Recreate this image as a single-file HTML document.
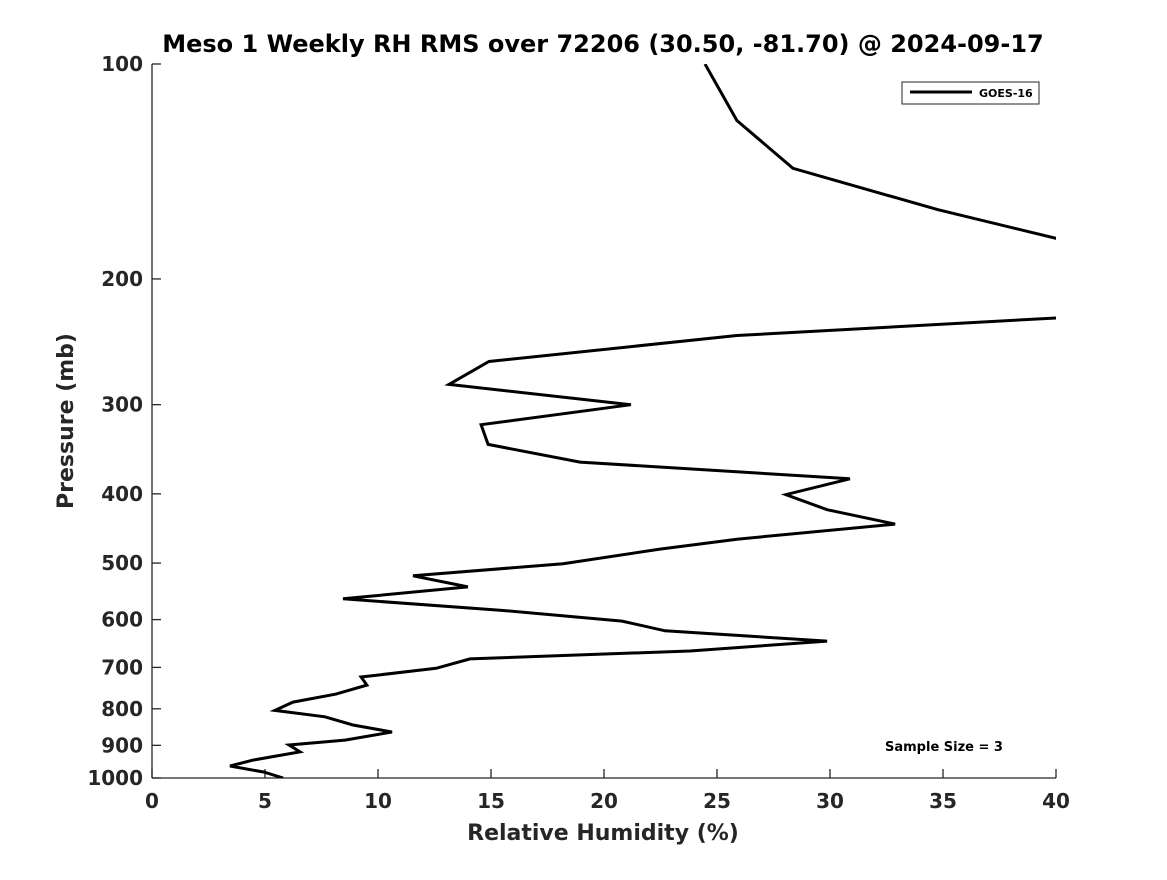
<!DOCTYPE html>
<html><head><meta charset="utf-8"><style>
body{margin:0;background:#fff;}
svg text{font-family:"DejaVu Sans","Liberation Sans",sans-serif;font-weight:bold;fill:#262626;}
</style></head><body>
<svg id="chart" width="1167" height="875" xmlns="http://www.w3.org/2000/svg">
<defs><clipPath id="plotclip"><rect x="152" y="64" width="904" height="714"/></clipPath></defs>
<text x="603" y="52" text-anchor="middle" font-size="24" style="fill:#000">Meso 1 Weekly RH RMS over 72206 (30.50, -81.70) @ 2024-09-17</text>
<g id="axes"></g>
<g id="series" clip-path="url(#plotclip)"></g>
<text x="603" y="840" text-anchor="middle" font-size="22">Relative Humidity (%)</text>
<text transform="translate(73,421) rotate(-90)" text-anchor="middle" font-size="22">Pressure (mb)</text>
<g>
<rect x="902" y="82" width="137" height="22" fill="#fff" stroke="#262626" stroke-width="1"/>
<line x1="910" y1="92" x2="972" y2="92" stroke="#000" stroke-width="3"/>
<text x="979" y="97" font-size="11" style="fill:#000">GOES-16</text>
</g>
<text x="944" y="751" text-anchor="middle" font-size="13" style="fill:#000">Sample Size = 3</text>
</svg>
<script>
const pressures=[100,120,140,160,200,225,240,261,281,300,320,341,361,381,401,421,441,463,478,501,521,540,561,582,603,622,643,664,681,702,722,741,763,783,804,821,843,862,885,899,919,944,962,981,1000];
const rhValues=[24.47,25.88,28.36,34.78,47.4,42,25.88,14.91,13.14,21.19,14.56,14.87,18.94,30.88,28.05,29.87,32.88,25.88,22.48,18.19,11.55,13.98,8.45,15.4,20.8,22.7,29.87,23.8,14.07,12.57,9.25,9.51,8.14,6.24,5.44,7.65,8.89,10.62,8.54,6.06,6.55,4.47,3.45,4.96,5.8];
const xTicks=[0,5,10,15,20,25,30,35,40];
const yTicks=[100,200,300,400,500,600,700,800,900,1000];
const NS="http://www.w3.org/2000/svg";
function xs(v){return 152+(v-0)/40*904;}
function ys(p){return 64+(Math.log10(p)-2)*714;}
const axes=document.getElementById('axes');
function mk(tag,attrs,parent){const e=document.createElementNS(NS,tag);for(const k in attrs)e.setAttribute(k,attrs[k]);parent.appendChild(e);return e;}
const xl=mk('line',{x1:152,y1:778,x2:1056,y2:778,stroke:'#262626','stroke-width':1.3},axes);


const yl=mk('line',{x1:152,y1:64,x2:152,y2:778,stroke:'#262626','stroke-width':1.3},axes);


xTicks.forEach(t=>{
 const x=xs(t);
 const tk=mk('line',{x1:x,y1:778,x2:x,y2:769,stroke:'#262626','stroke-width':1.3},axes);
 
 
 const tx=mk('text',{x:x,y:808,'text-anchor':'middle','font-size':20},axes);
 tx.textContent=t;
 
 
});
yTicks.forEach(t=>{
 const y=ys(t);
 const tk=mk('line',{x1:152,y1:y,x2:161,y2:y,stroke:'#262626','stroke-width':1.3},axes);
 
 
 const tx=mk('text',{x:143,y:y+7,'text-anchor':'end','font-size':20},axes);
 tx.textContent=t;
 
 
});
const pts=pressures.map((p,i)=>xs(rhValues[i]).toFixed(1)+','+ys(p).toFixed(1)).join(' ');
const line=mk('polyline',{points:pts,fill:'none',stroke:'#000','stroke-width':3,'stroke-linejoin':'miter'},document.getElementById('series'));


</script>
</body></html>
